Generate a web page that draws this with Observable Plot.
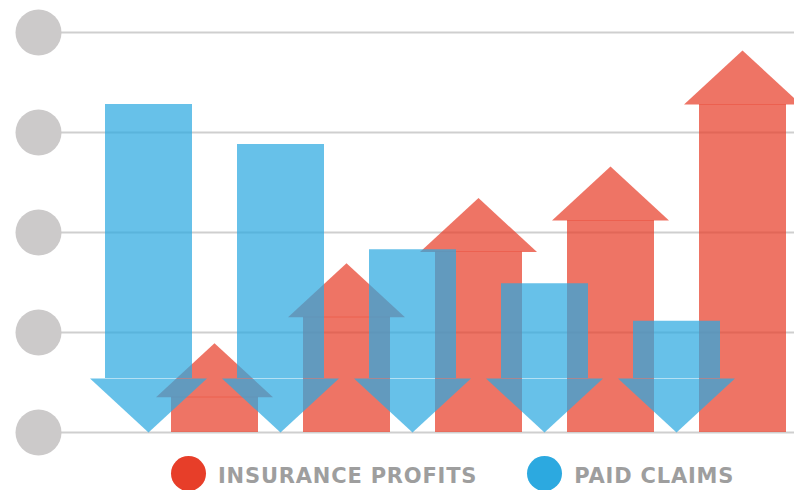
<!DOCTYPE html>
<html>
<head>
<meta charset="utf-8">
<script src="https://cdn.jsdelivr.net/npm/d3@7"></script>
<script src="https://cdn.jsdelivr.net/npm/@observablehq/plot@0.6"></script>
<style>
  html, body { margin: 0; padding: 0; background: #fff; }
  #chart svg { display: block; overflow: visible; }
  .legend { display: flex; align-items: center; height: 34px; padding-left: 171px;
    font-family: "DejaVu Sans", sans-serif; font-weight: 700; font-size: 21px; letter-spacing: 0.8px; color: #9e9e9e; }
  .legend .dot { width: 35px; height: 35px; border-radius: 50%; flex: none; }
  .legend .lab { margin-left: 12px; white-space: nowrap; position: relative; top: 3px; }
</style>
</head>
<body>
<div id="chart"></div>
<script>
// ---- data (grid units 0..100) ----
const periods = ["1", "2", "3", "4", "5"];
const seriesNames = ["INSURANCE PROFITS", "PAID CLAIMS"];
const seriesColors = ["#E73E29", "#2CA9E0"];
const profits = [22.3, 42.3, 58.6, 66.5, 95.5];   // top of each up-arrow
const claims  = [82.0, 72.0, 45.7, 37.2, 27.8];   // top of each down-arrow
const gridTicks = [0, 25, 50, 75, 100];

// ---- build table ----
const keyOf = (p, s) => p + "|" + s;
const xDomain = periods.flatMap(p => [keyOf(p, seriesNames[1]), keyOf(p, seriesNames[0])]);
const profitRows = periods.map((p, i) => ({period: p, series: seriesNames[0], key: keyOf(p, seriesNames[0]), value: profits[i]}));
const claimRows  = periods.map((p, i) => ({period: p, series: seriesNames[1], key: keyOf(p, seriesNames[1]), value: claims[i]}));

// arrow style constants (pixels)
const BODY = 87, HEAD_HALF = 58.5, HEAD_H = 54, OP = 0.72;
const upHead = { draw(ctx) { ctx.moveTo(-HEAD_HALF, HEAD_H); ctx.lineTo(0, 0); ctx.lineTo(HEAD_HALF, HEAD_H); ctx.closePath(); } };
const downHead = { draw(ctx) { ctx.moveTo(-HEAD_HALF, -HEAD_H); ctx.lineTo(HEAD_HALF, -HEAD_H); ctx.lineTo(0, 0); ctx.closePath(); } };

const chart = Plot.plot({
  width: 794,
  height: 456,
  marginTop: 32,
  marginBottom: 24,
  marginLeft: 38,
  marginRight: 0,
  x: {type: "point", domain: xDomain, padding: 0, insetLeft: 108, insetRight: 51, axis: null},
  y: {domain: [0, 100], axis: null},
  marks: [
    Plot.ruleY(gridTicks, {y: d => d, stroke: "#cfcfcf", strokeWidth: 2}),
    Plot.dot(gridTicks, {y: d => d, frameAnchor: "left", r: 23, fill: "#cccaca", stroke: null}),
    // profits: up arrows
    Plot.ruleX(profitRows, {x: "key", y1: "value", y2: () => 0, insetTop: HEAD_H, stroke: seriesColors[0], strokeWidth: BODY, strokeOpacity: OP}),
    Plot.dot(profitRows, {x: "key", y: "value", symbol: upHead, fill: seriesColors[0], fillOpacity: OP, stroke: null}),
    // claims: down arrows
    Plot.ruleX(claimRows, {x: "key", y1: "value", y2: () => 0, insetBottom: HEAD_H, stroke: seriesColors[1], strokeWidth: BODY, strokeOpacity: OP}),
    Plot.dot(claimRows, {x: "key", y: () => 0, symbol: downHead, fill: seriesColors[1], fillOpacity: OP, stroke: null})
  ]
});
document.getElementById("chart").appendChild(chart);

// legend below the chart
const legend = document.createElement("div");
legend.className = "legend";
seriesNames.forEach((name, i) => {
  const item = document.createElement("div");
  item.style.display = "flex";
  item.style.alignItems = "center";
  if (i > 0) item.style.marginLeft = "50px";
  const dot = document.createElement("span");
  dot.className = "dot";
  dot.style.background = seriesColors[i];
  const lab = document.createElement("span");
  lab.className = "lab";
  lab.textContent = name;
  item.append(dot, lab);
  legend.appendChild(item);
});
document.body.appendChild(legend);
</script>
</body>
</html>
